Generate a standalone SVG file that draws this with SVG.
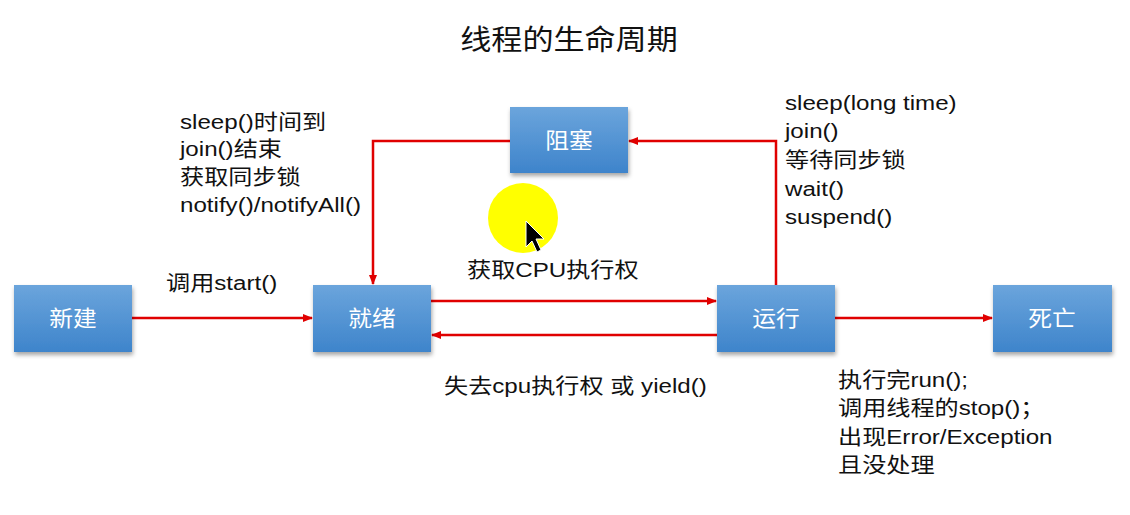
<svg xmlns="http://www.w3.org/2000/svg" width="1130" height="515" viewBox="0 0 1130 515">
<defs>
<linearGradient id="g" x1="0" y1="0" x2="0" y2="1">
<stop offset="0" stop-color="#6ba5dc"/>
<stop offset="1" stop-color="#3e84cb"/>
</linearGradient>
<filter id="sh" x="-10%" y="-10%" width="125%" height="135%">
<feDropShadow dx="1" dy="3" stdDeviation="2" flood-color="#000" flood-opacity="0.35"/>
</filter>
<marker id="ah" markerWidth="10" markerHeight="8" refX="9" refY="4" orient="auto" markerUnits="userSpaceOnUse">
<path d="M0,0 L10,4 L0,8 z" fill="#e00000"/>
</marker>
</defs>
<style>
.box{fill:url(#g);filter:url(#sh);}
.nt{font-family:"Liberation Sans","Noto Sans CJK SC",sans-serif;font-size:22px;fill:#fff;text-anchor:middle;}
.lb{font-family:"Liberation Sans","Noto Sans CJK SC",sans-serif;font-size:21px;fill:#111;}
.ln{stroke:#e00000;stroke-width:2.5;fill:none;}
</style>
<rect width="1130" height="515" fill="#fff"/>
<text transform="translate(569,50) scale(1.11,1)" text-anchor="middle" style="font-family:'Liberation Sans','Noto Sans CJK SC',sans-serif;font-size:28px;fill:#111;">线程的生命周期</text>

<g id="connectors">
<line class="ln" x1="132" y1="318" x2="312" y2="318" marker-end="url(#ah)"/>
<line class="ln" x1="431" y1="301" x2="716" y2="301" marker-end="url(#ah)"/>
<line class="ln" x1="717" y1="335" x2="432" y2="335" marker-end="url(#ah)"/>
<line class="ln" x1="835" y1="318" x2="992" y2="318" marker-end="url(#ah)"/>
<polyline class="ln" points="776,285 776,141 629,141" marker-end="url(#ah)"/>
<polyline class="ln" points="510,141 373,141 373,284" marker-end="url(#ah)"/>
</g>

<g id="node-new"><rect class="box" x="14" y="285" width="118" height="67"/><text class="nt" transform="translate(73,326) scale(1.08,1)">新建</text></g>
<g id="node-ready"><rect class="box" x="313" y="285" width="118" height="67"/><text class="nt" transform="translate(372,326) scale(1.08,1)">就绪</text></g>
<g id="node-running"><rect class="box" x="717" y="285" width="118" height="67"/><text class="nt" transform="translate(776,326) scale(1.08,1)">运行</text></g>
<g id="node-dead"><rect class="box" x="993" y="285" width="119" height="67"/><text class="nt" transform="translate(1052,326) scale(1.08,1)">死亡</text></g>
<g id="node-blocked"><rect class="box" x="510" y="107" width="118" height="66"/><text class="nt" transform="translate(569,148) scale(1.08,1)">阻塞</text></g>

<circle cx="523" cy="218" r="35" fill="#ffff00"/>
<path d="M526,221 L526,247 L532,241 L537,252 L541,250 L536,239 L544,239 Z" fill="#000" stroke="#fff" stroke-width="1"/>

<g id="labels">
<text class="lb" transform="translate(180,129) scale(1.15,1)">sleep()时间到</text>
<text class="lb" transform="translate(180,156) scale(1.15,1)">join()结束</text>
<text class="lb" transform="translate(180,184) scale(1.15,1)">获取同步锁</text>
<text class="lb" transform="translate(180,212) scale(1.15,1)">notify()/notifyAll()</text>
<text class="lb" transform="translate(166,290) scale(1.15,1)">调用start()</text>
<text class="lb" transform="translate(467,277) scale(1.15,1)">获取CPU执行权</text>
<text class="lb" transform="translate(444,393) scale(1.15,1)">失去cpu执行权 或 yield()</text>
<text class="lb" transform="translate(785,110) scale(1.15,1)">sleep(long time)</text>
<text class="lb" transform="translate(785,138) scale(1.15,1)">join()</text>
<text class="lb" transform="translate(785,167) scale(1.15,1)">等待同步锁</text>
<text class="lb" transform="translate(785,196) scale(1.15,1)">wait()</text>
<text class="lb" transform="translate(785,224) scale(1.15,1)">suspend()</text>
<text class="lb" transform="translate(838,387) scale(1.15,1)">执行完run();</text>
<text class="lb" transform="translate(838,415) scale(1.15,1)">调用线程的stop()；</text>
<text class="lb" transform="translate(838,444) scale(1.15,1)">出现Error/Exception</text>
<text class="lb" transform="translate(838,472) scale(1.15,1)">且没处理</text>
</g>
</svg>
